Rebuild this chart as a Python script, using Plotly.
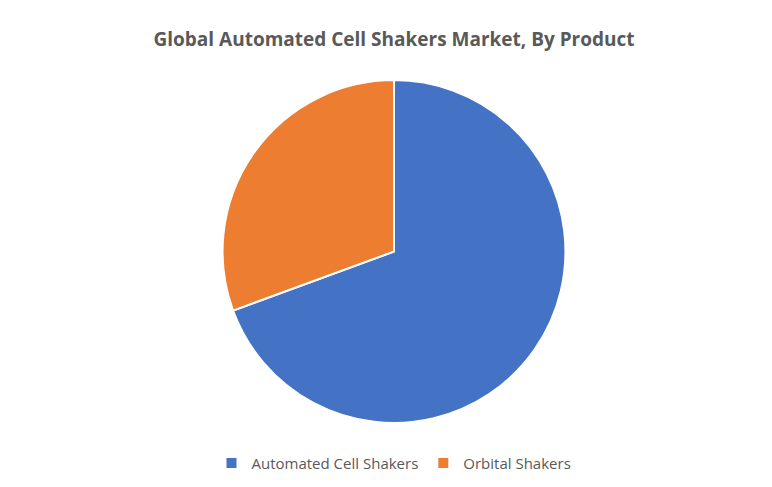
import plotly.graph_objects as go

labels = ["Automated Cell Shakers", "Orbital Shakers"]
values = [69.4, 30.6]
colors = ["#4472C4", "#ED7D31"]

fig = go.Figure(go.Pie(
    labels=labels, values=values, sort=False, direction="clockwise", rotation=0,
    marker=dict(colors=colors, line=dict(color="white", width=2)),
    textinfo="none", hoverinfo="label+percent",
    domain=dict(x=[0.2, 0.8], y=[0.148, 0.852]),
))
fig.update_layout(
    width=772, height=487,
    margin=dict(l=0, r=0, t=0, b=0),
    paper_bgcolor="white", plot_bgcolor="white",
    title=dict(text="<b>Global Automated Cell Shakers Market, By Product</b>",
               x=0.5, xanchor="center", y=0.935, yanchor="middle",
               font=dict(family="Open Sans, Liberation Sans", size=19, color="#595959")),
    legend=dict(orientation="h", x=0.5, xanchor="center", y=0.065, yanchor="middle",
                font=dict(family="Open Sans, Liberation Sans", size=15, color="#595959"),
                itemsizing="constant"),
)
fig.write_html("out.html")
